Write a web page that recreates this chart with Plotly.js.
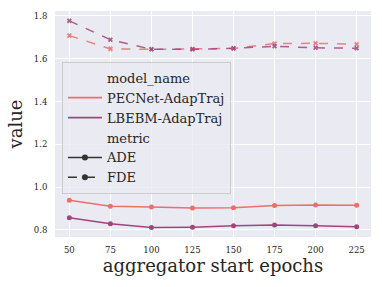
<!DOCTYPE html>
<html>
<head>
<meta charset="utf-8">
<script src="https://cdn.plot.ly/plotly-3.0.1.min.js"></script>
<style>html,body{margin:0;padding:0;background:#fff;}#chart{width:382px;height:287px;}</style>
</head>
<body>
<div id="chart"></div>
<script>
const epochs = [50, 75, 100, 125, 150, 175, 200, 225];
const models = ["PECNet-AdapTraj", "LBEBM-AdapTraj"];
const metrics = ["ADE", "FDE"];
const pecnetADE = [0.939, 0.911, 0.907, 0.903, 0.904, 0.914, 0.917, 0.915];
const lbebmADE  = [0.857, 0.829, 0.811, 0.813, 0.819, 0.823, 0.820, 0.815];
const pecnetFDE = [1.708, 1.646, 1.644, 1.645, 1.648, 1.671, 1.672, 1.668];
const lbebmFDE  = [1.777, 1.689, 1.644, 1.644, 1.649, 1.658, 1.651, 1.649];
const colors = ["#ec6f6d", "#a3447e"];

const FONT = "DejaVu Serif, serif";
const series = [
  {m: 0, k: 0, y: pecnetADE},
  {m: 1, k: 0, y: lbebmADE},
  {m: 0, k: 1, y: pecnetFDE},
  {m: 1, k: 1, y: lbebmFDE}
];
const traces = series.map(s => ({
  x: epochs, y: s.y, type: "scatter", mode: "lines+markers",
  showlegend: false,
  name: models[s.m] + " " + metrics[s.k],
  line: {color: colors[s.m], width: 1.5, dash: s.k === 1 ? "dash" : "solid"},
  marker: {color: colors[s.m], size: s.k === 1 ? 4.5 : 5, symbol: s.k === 1 ? "x" : "circle"},
  opacity: s.k === 1 ? 0.85 : 1
}));
// legend entries
const blank = "rgba(0,0,0,0)";
traces.push({x: [null], y: [null], type: "scatter", mode: "lines", name: "model_name", line: {color: blank, width: 1}});
models.forEach((m, i) => traces.push({x: [null], y: [null], type: "scatter", mode: "lines", name: m, line: {color: colors[i], width: 1.8}}));
traces.push({x: [null], y: [null], type: "scatter", mode: "lines", name: "metric", line: {color: blank, width: 1}});
metrics.forEach((k, i) => traces.push({x: [null], y: [null], type: "scatter", mode: "lines+markers", name: k,
  line: {color: "#333333", width: 1.5, dash: i === 1 ? "dash" : "solid"},
  marker: {color: "#333333", size: 6, symbol: "circle"}}));

const layout = {
  width: 382, height: 287,
  margin: {l: 55, r: 11, t: 11, b: 50},
  paper_bgcolor: "#ffffff",
  plot_bgcolor: "#eaeaf2",
  font: {family: FONT, color: "#262626"},
  showlegend: true,
  legend: {
    x: 0.022, y: 0.775, xanchor: "left", yanchor: "top",
    bgcolor: "rgba(234,234,242,0.8)", bordercolor: "#cccccc", borderwidth: 1,
    font: {family: FONT, size: 13, color: "#262626"},
    itemwidth: 34, tracegroupgap: 0
  },
  xaxis: {
    range: [41.25, 233.75], tickvals: epochs, ticktext: epochs.map(String),
    showgrid: true, gridcolor: "#ffffff", gridwidth: 1, zeroline: false, showline: false,
    ticks: "outside", ticklen: 5, tickcolor: blank,
    tickfont: {family: FONT, size: 8.5, color: "#262626"},
    title: {text: "aggregator start epochs", font: {family: FONT, size: 18, color: "#262626"}, standoff: 2}
  },
  yaxis: {
    range: [0.767, 1.823], tickvals: [0.8, 1.0, 1.2, 1.4, 1.6, 1.8], ticktext: ["0.8", "1.0", "1.2", "1.4", "1.6", "1.8"],
    showgrid: true, gridcolor: "#ffffff", gridwidth: 1, zeroline: false, showline: false,
    ticks: "outside", ticklen: 5, tickcolor: blank,
    tickfont: {family: FONT, size: 8.5, color: "#262626"},
    title: {text: "value", font: {family: FONT, size: 18, color: "#262626"}, standoff: 6}
  }
};
Plotly.newPlot("chart", traces, layout, {staticPlot: true, displayModeBar: false});
</script>
</body>
</html>
